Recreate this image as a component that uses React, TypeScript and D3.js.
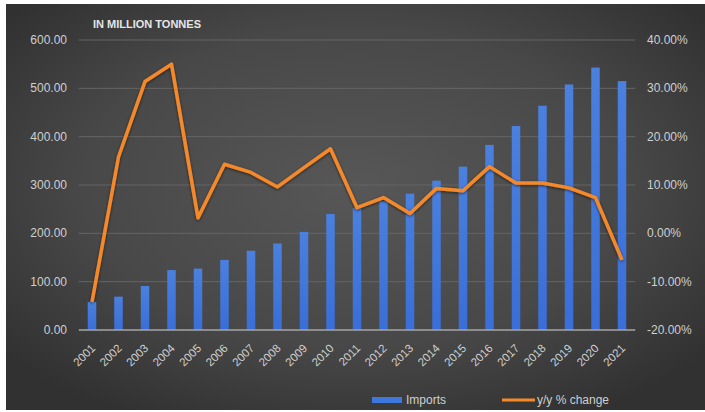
import React from "react";
import * as d3 from "d3";

const years = ["2001","2002","2003","2004","2005","2006","2007","2008","2009","2010","2011","2012","2013","2014","2015","2016","2017","2018","2019","2020","2021"];
const imports = [58, 69, 91, 124, 127, 145, 164, 179, 203, 240, 252, 266, 282, 309, 338, 383, 422, 464, 508, 543, 515];
const yoy = [-14.2, 15.8, 31.4, 35.0, 3.2, 14.3, 12.6, 9.6, 13.6, 17.5, 5.3, 7.4, 4.1, 9.3, 8.8, 13.8, 10.4, 10.4, 9.4, 7.4, -5.5];
const leftTicks = [0, 100, 200, 300, 400, 500, 600];
const rightTicks = [-20, -10, 0, 10, 20, 30, 40];

const W = 705, H = 412;
const plot = { left: 78.75, right: 635.25, top: 40, bottom: 330 };

export default function App() {
  const x = d3.scaleBand<string>().domain(years).range([plot.left, plot.right]).paddingInner(0).paddingOuter(0);
  const yL = d3.scaleLinear().domain([0, 600]).range([plot.bottom, plot.top]);
  const yR = d3.scaleLinear().domain([-20, 40]).range([plot.bottom, plot.top]);
  const bw = 8.5;
  const line = d3.line<number>().x((_, i) => x(years[i])! + x.bandwidth() / 2).y(d => yR(d));
  const font = "'Liberation Sans', Arial, sans-serif";
  return (
    <svg width={W} height={H} style={{ position: "absolute", left: 0, top: 0 }}>
      <defs>
        <radialGradient id="bg" cx="50%" cy="45%" r="65%">
          <stop offset="0%" stopColor="#575757" />
          <stop offset="60%" stopColor="#484848" />
          <stop offset="100%" stopColor="#313131" />
        </radialGradient>
        <linearGradient id="bar" x1="0" x2="0" y1="0" y2="1">
          <stop offset="0%" stopColor="#4a80de" />
          <stop offset="100%" stopColor="#3a6ed8" />
        </linearGradient>
        <filter id="shadow" x="-10%" y="-10%" width="120%" height="120%">
          <feGaussianBlur in="SourceAlpha" stdDeviation="1.5" />
          <feOffset dx="0" dy="1" result="b" />
          <feComponentTransfer><feFuncA type="linear" slope="0.6" /></feComponentTransfer>
          <feMerge><feMergeNode /><feMergeNode in="SourceGraphic" /></feMerge>
        </filter>
      </defs>
      <rect x={0} y={0} width={W} height={H} fill="#ffffff" />
      <rect x={6} y={4} width={W - 6} height={406} fill="url(#bg)" />
      <text x={93} y={28} fill="#e6e6e6" fontFamily={font} fontWeight="bold" fontSize={11}>IN MILLION TONNES</text>
      {leftTicks.map(t => (
        <g key={"g" + t}>
          {t !== 0 && <line x1={plot.left} x2={plot.right} y1={yL(t)} y2={yL(t)} stroke="#656565" strokeWidth={1} />}
          <text x={67} y={yL(t) + 4} textAnchor="end" fill="#cfcfcf" fontFamily={font} fontSize={12}>{t.toFixed(2)}</text>
        </g>
      ))}
      {rightTicks.map(t => (
        <text key={"r" + t} x={647} y={yR(t) + 4} fill="#cfcfcf" fontFamily={font} fontSize={12}>{t.toFixed(2) + "%"}</text>
      ))}
      {imports.map((v, i) => (
        <rect key={"b" + i} x={x(years[i])! + x.bandwidth() / 2 - bw / 2} y={yL(v)} width={bw} height={yL(0) - yL(v)} fill="url(#bar)" />
      ))}
      <line x1={plot.left} x2={plot.right} y1={yL(0)} y2={yL(0)} stroke="#a6a6a6" strokeWidth={1.5} />
      <path d={line(yoy)!} fill="none" stroke="#f5892a" strokeWidth={3.5} strokeLinejoin="round" filter="url(#shadow)" />
      {years.map(yr => {
        const cx = x(yr)! + x.bandwidth() / 2 + 4;
        return (
          <text key={"x" + yr} transform={`translate(${cx},${349}) rotate(-45)`} textAnchor="end" fill="#cfcfcf" fontFamily={font} fontSize={11.5}>{yr}</text>
        );
      })}
      <rect x={372} y={397} width={30} height={6} fill="#3f78dc" />
      <text x={406} y={404} fill="#cfcfcf" fontFamily={font} fontSize={12}>Imports</text>
      <line x1={502} x2={535} y1={400} y2={400} stroke="#f5892a" strokeWidth={3} />
      <text x={537} y={404} fill="#cfcfcf" fontFamily={font} fontSize={12}>y/y % change</text>
    </svg>
  );
}
